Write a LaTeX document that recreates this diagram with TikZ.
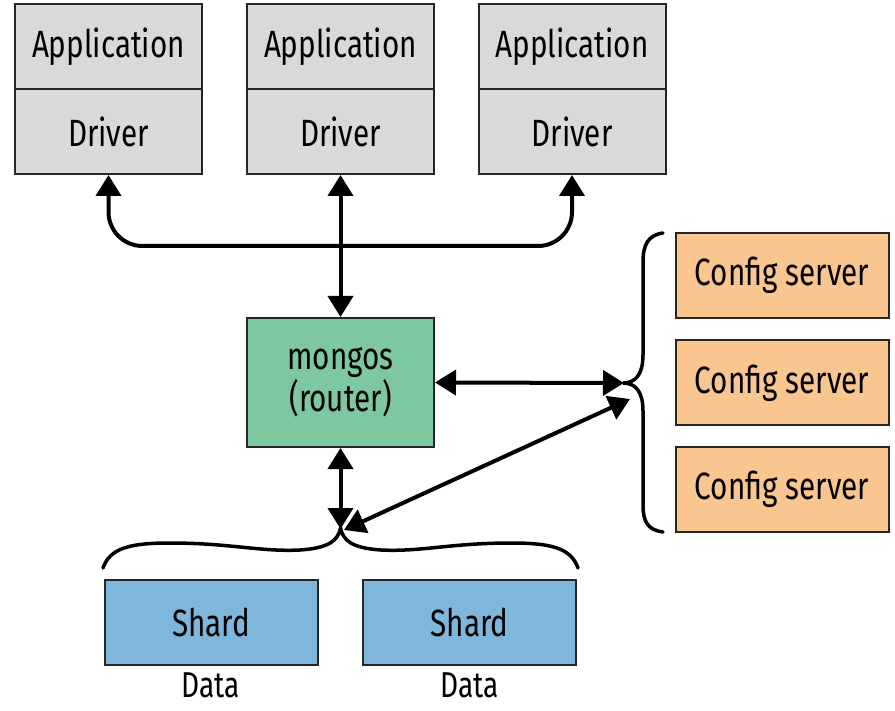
\documentclass[tikz,border=0pt]{standalone}
\usepackage{fontspec}
\setmainfont{Fira Sans}[FakeStretch=0.78]
\usetikzlibrary{arrows.meta}
\definecolor{appgray}{RGB}{217,217,217}
\definecolor{mgreen}{RGB}{126,200,160}
\definecolor{corange}{RGB}{250,198,143}
\definecolor{sblue}{RGB}{127,182,220}
\tikzset{
  box/.style={draw=black!85, line width=2pt, minimum width=187pt, inner sep=0pt, align=center,
    font=\fontsize{38}{40}\selectfont},
  appbox/.style={box, fill=appgray, minimum height=85pt},
  mbox/.style={box, fill=mgreen, minimum height=129pt, font=\fontsize{38}{42}\selectfont},
  cbox/.style={box, fill=corange, minimum width=213pt, minimum height=85pt},
  sbox/.style={box, fill=sblue, minimum width=213pt, minimum height=85pt},
  lbl/.style={font=\fontsize{36}{38}\selectfont, inner sep=0pt, text depth=0pt, anchor=base},
  arr/.style={line width=4pt, {Triangle[length=21pt,width=25pt]}-{Triangle[length=21pt,width=25pt]}},
  brace/.style={line width=3.5pt, line cap=round}
}
\begin{document}
\begin{tikzpicture}[x=1pt,y=-1pt]
\useasboundingbox (0,0) rectangle (895,711);
% applications and drivers
\node[appbox] (app1) at (108.5,47) {Application};
\node[appbox] (drv1) at (108.5,131.5) {Driver};
\node[appbox] (app2) at (340.5,47) {Application};
\node[appbox] (drv2) at (340.5,131.5) {Driver};
\node[appbox] (app3) at (572,47) {Application};
\node[appbox] (drv3) at (572,131.5) {Driver};
% mongos
\node[mbox] (mongos) at (340.5,382.5) {mongos\\(router)};
% config servers
\node[cbox] (cfg1) at (782,275.5) {Config server};
\node[cbox] (cfg2) at (782,383) {Config server};
\node[cbox] (cfg3) at (782,489.5) {Config server};
% shards
\node[sbox] (sh1) at (211,622.5) {Shard};
\node[sbox] (sh2) at (469.5,622.5) {Shard};
\node[lbl] (d1) at (211,697) {Data};
\node[lbl] (d2) at (469.5,697) {Data};
% coordinates
\coordinate (bus) at (340.5,246);
\coordinate (ctip) at (624,383);
\coordinate (ctip2) at (630,399);
\coordinate (stip) at (340.5,529);
\coordinate (stip2) at (344,530);
% driver bus
\draw[arr, rounded corners=34pt] (drv1.south) |- (bus) -| (drv3.south);
\draw[arr] (drv2.south) -- (mongos.north);
% mongos to config / shards
\draw[arr] (mongos.east) -- (ctip);
\draw[arr] (mongos.south) -- (stip);
\draw[arr] (stip2) -- (ctip2);
% config brace
\draw[brace] (663,233) .. controls (648,235) and (643,245) .. (643,262) -- (643,355)
  .. controls (643,375) and (635,383) .. (623,383)
  .. controls (635,383) and (643,391) .. (643,411) -- (643,505)
  .. controls (643,522) and (648,530) .. (663,532);
% shard brace
\draw[brace] (103,568) .. controls (110,548) and (130,543) .. (170,543)
  .. controls (230,543) and (260,552) .. (300,550)
  .. controls (330,548) and (338,540) .. (340.5,528)
  .. controls (343,540) and (351,548) .. (381,550)
  .. controls (421,552) and (451,543) .. (511,543)
  .. controls (551,543) and (571,548) .. (578,568);
\end{tikzpicture}
\end{document}
